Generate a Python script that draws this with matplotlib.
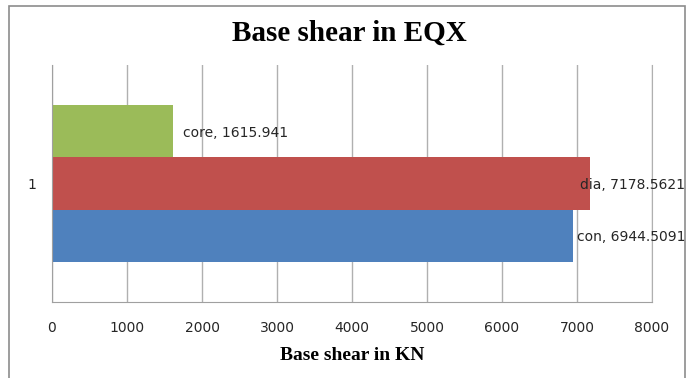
import matplotlib.pyplot as plt
from matplotlib.patches import Rectangle

series = ["con", "dia", "core"]
values = [6944.5091, 7178.5621, 1615.941]
value_labels = ["6944.5091", "7178.5621", "1615.941"]
colors = ["#4F81BD", "#C0504D", "#9BBB59"]
category = 1

fig = plt.figure(figsize=(6.93, 3.78), dpi=100)
ax = fig.add_axes([52 / 693, 1 - 302 / 378, 600 / 693, 237 / 378])

bar_h = 0.22
offsets = [-bar_h, 0, bar_h]
for val, col, off in zip(values, colors, offsets):
    ax.barh(category + off, val, height=bar_h, color=col, zorder=2)

ax.set_xlim(0, 8000)
ax.set_ylim(0.5, 1.5)
ax.set_xticks(range(0, 8001, 1000))
ax.set_yticks([category])
ax.set_yticklabels([str(category)])
ax.tick_params(length=0, labelsize=10, colors="#262626")
ax.tick_params(axis="x", pad=14)
ax.tick_params(axis="y", pad=11)
ax.grid(axis="x", color="#b0b0b0", linewidth=1, zorder=0)
ax.spines["top"].set_visible(False)
ax.spines["right"].set_color("#b0b0b0")
for side in ["left", "bottom"]:
    ax.spines[side].set_color("#a0a0a0")

# value labels next to bar ends; long ones are nudged back inside the frame
label_shift = {"con": 3, "dia": -7.5, "core": 7}
for name, val, txt, off in zip(series, values, value_labels, offsets):
    ax.annotate(f"{name}, {txt}", xy=(val, category + off),
                xytext=(label_shift[name], -1), textcoords="offset points",
                ha="left", va="center", fontsize=10, color="#262626",
                annotation_clip=False)

fig.suptitle("Base shear in EQX", x=349 / 693, y=1 - 33 / 378, va="center",
             fontsize=21, fontweight="bold", family="Liberation Serif")
fig.text(352 / 693, 1 - 356 / 378, "Base shear in KN", ha="center", va="center",
         fontsize=14, fontweight="bold", family="Liberation Serif")

# chart frame
fig.add_artist(Rectangle((9 / 693, -0.05), 676 / 693, 1.05 - 6 / 378,
                         transform=fig.transFigure, fill=False,
                         edgecolor="#8c8c8c", linewidth=1.2))

fig.savefig("out.png", dpi=100)
